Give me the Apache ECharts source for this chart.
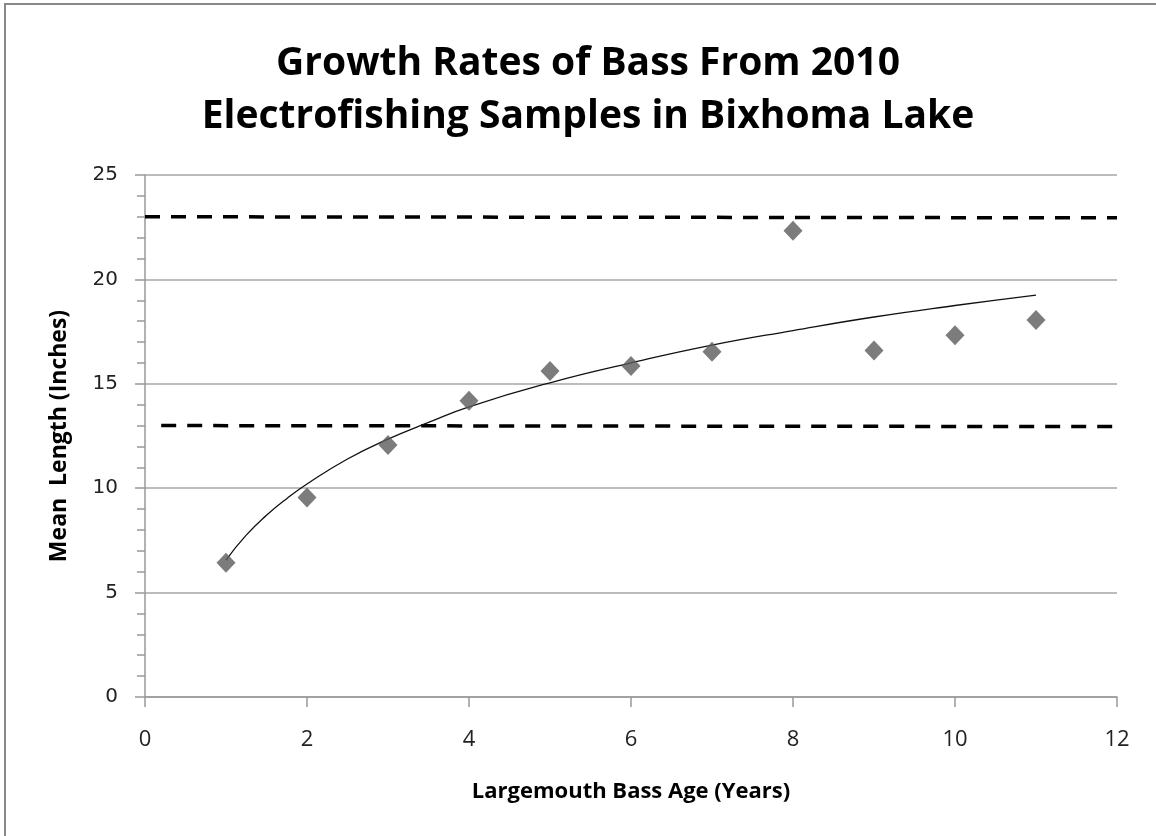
<!DOCTYPE html>
<html>
<head>
<meta charset="utf-8">
<script src="https://cdn.jsdelivr.net/npm/echarts@6/dist/echarts.min.js"></script>
<style>
html,body{margin:0;padding:0;background:#fff;}
#c{width:1156px;height:836px;}
</style>
</head>
<body>
<div id="c"></div>
<script>
// Data
var titleLines = ['Growth Rates of Bass From 2010', 'Electrofishing Samples in Bixhoma Lake'];
var xAxisName = 'Largemouth Bass Age (Years)';
var yAxisName = 'Mean  Length (Inches)';
var ages = [1, 2, 3, 4, 5, 6, 7, 8, 9, 10, 11];
var meanLength = [6.43, 9.56, 12.07, 14.19, 15.61, 15.85, 16.54, 22.33, 16.59, 17.32, 18.06];
// trend line (logarithmic fit curve as drawn), read at these ages
var trendAges = [1, 1.25, 1.5, 1.75, 2, 2.5, 3, 3.5, 4, 5, 6, 7, 8, 9, 10, 11];
var trendLength = [6.56, 7.75, 8.7, 9.5, 10.2, 11.4, 12.35, 13.15, 13.9, 15.05, 16.0, 16.85, 17.55, 18.2, 18.75, 19.25];
// dashed reference lines
var upperRefX = [0, 12];
var upperRefY = [23, 22.95];
var lowerRefX = [0.2, 12];
var lowerRefY = [13, 12.95];
var xTicks = {min: 0, max: 12, interval: 2};
var yTicks = {min: 0, max: 25, interval: 5};

function pairs(xs, ys) { return xs.map(function (x, i) { return [x, ys[i]]; }); }

var chart = echarts.init(document.getElementById('c'));
chart.setOption({
  animation: false,
  backgroundColor: '#fff',
  title: {
    text: titleLines.join('\n'),
    left: 583, top: 32, textAlign: 'center',
    textStyle: {fontFamily: 'Open Sans', fontWeight: 'bold', fontSize: 39, lineHeight: 53, color: '#000'}
  },
  graphic: [{
    type: 'rect', silent: true,
    shape: {x: 5, y: 4, width: 1170, height: 850},
    style: {fill: 'none', stroke: '#888', lineWidth: 2}
  }],
  grid: {left: 145, right: 39, top: 175, bottom: 139},
  xAxis: {
    type: 'value', min: xTicks.min, max: xTicks.max, interval: xTicks.interval,
    name: xAxisName, nameLocation: 'middle', nameGap: 84,
    nameTextStyle: {fontFamily: 'Open Sans', fontWeight: 'bold', fontSize: 22, color: '#000'},
    axisLine: {show: true, lineStyle: {color: '#999', width: 1.5}},
    axisTick: {show: true, length: 10, lineStyle: {color: '#999', width: 1.5}},
    axisLabel: {fontFamily: 'Open Sans', fontSize: 22, color: '#222', margin: 32},
    splitLine: {show: false}
  },
  yAxis: {
    type: 'value', min: yTicks.min, max: yTicks.max, interval: yTicks.interval,
    name: yAxisName, nameLocation: 'middle', nameGap: 74, nameRotate: 90,
    nameTextStyle: {fontFamily: 'Open Sans', fontWeight: 'bold', fontSize: 23, color: '#000'},
    axisLine: {show: true, lineStyle: {color: '#999', width: 1.5}},
    axisTick: {show: true, length: 10, lineStyle: {color: '#999', width: 1.5}},
    minorTick: {show: true, splitNumber: 5, length: 8, lineStyle: {color: '#999', width: 1.5}},
    axisLabel: {fontFamily: 'DejaVu Sans', fontSize: 20, color: '#222', margin: 27},
    splitLine: {show: true, lineStyle: {color: '#a6a6a6', width: 1.5}}
  },
  series: [
    {
      type: 'line', data: pairs(upperRefX, upperRefY), symbol: 'none',
      lineStyle: {color: '#000', width: 3.5, type: [15, 11]}
    },
    {
      type: 'line', data: pairs(lowerRefX, lowerRefY), symbol: 'none',
      lineStyle: {color: '#000', width: 3.5, type: [15, 11]}
    },
    {
      type: 'line', data: pairs(trendAges, trendLength), symbol: 'none', smooth: true,
      lineStyle: {color: '#111', width: 1.3}
    },
    {
      type: 'scatter', data: pairs(ages, meanLength), symbol: 'diamond', symbolSize: [19, 20],
      itemStyle: {color: '#5b5b5b'}, z: 5
    }
  ]
});
</script>
</body>
</html>
